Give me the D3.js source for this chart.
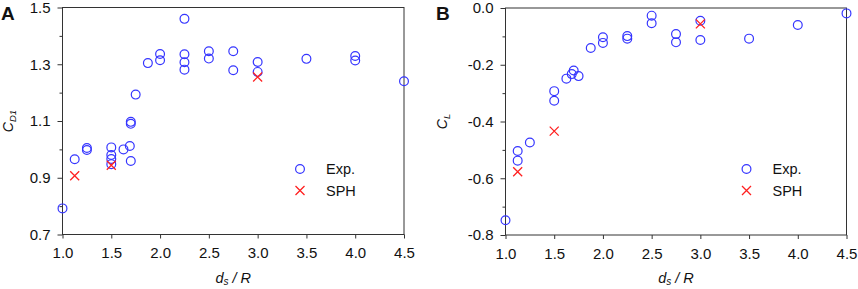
<!DOCTYPE html>
<html>
<head>
<meta charset="utf-8">
<script src="https://cdn.jsdelivr.net/npm/d3@7"></script>
<style>
  body { margin: 0; background: #fff; }
  text { font-family: "Liberation Sans", Arial, sans-serif; fill: #111; }
</style>
</head>
<body>
<div id="chart"></div>
<script>
// ---- data ----
var xTicks = [1.0, 1.5, 2.0, 2.5, 3.0, 3.5, 4.0, 4.5];

// Panel A: drag coefficient C_D1
var expXA = [1.0, 1.125, 1.25, 1.25, 1.5, 1.5, 1.5, 1.5, 1.625, 1.69, 1.7, 1.7, 1.7, 1.75, 1.875,
             2.0, 2.0, 2.25, 2.25, 2.25, 2.25, 2.5, 2.5, 2.75, 2.75, 3.0, 3.0, 3.5, 4.0, 4.0, 4.5];
var expYA = [0.792, 0.965, 1.005, 0.998, 1.007, 0.980, 0.966, 0.948, 1.0, 1.012, 0.959, 1.097, 1.090, 1.193, 1.304,
             1.336, 1.314, 1.460, 1.335, 1.307, 1.281, 1.346, 1.320, 1.346, 1.279, 1.308, 1.273, 1.319, 1.329, 1.313, 1.240];
var sphXA = [1.125, 1.5, 3.0];
var sphYA = [0.907, 0.944, 1.255];
var yMajorA = [0.7, 0.9, 1.1, 1.3, 1.5];
var yMinorA = [0.8, 1.0, 1.2, 1.4];

// Panel B: lift coefficient C_L
var expXB = [1.0, 1.125, 1.125, 1.25, 1.5, 1.5, 1.625, 1.68, 1.7, 1.75, 1.875, 2.0, 2.0,
             2.25, 2.25, 2.5, 2.5, 2.75, 2.75, 3.0, 3.0, 3.5, 4.0, 4.5];
var expYB = [-0.748, -0.504, -0.538, -0.474, -0.293, -0.327, -0.249, -0.233, -0.220, -0.240, -0.141, -0.103, -0.123,
             -0.099, -0.108, -0.027, -0.054, -0.092, -0.121, -0.045, -0.113, -0.108, -0.060, -0.019];
var sphXB = [1.125, 1.5, 3.0];
var sphYB = [-0.577, -0.434, -0.056];
var yMajorB = [-0.8, -0.6, -0.4, -0.2, 0.0];
var yMinorB = [-0.7, -0.5, -0.3, -0.1];

var blue = "#3535ff";
var red = "#ff2020";
var axisColor = "#333";

var svg = d3.select("#chart").append("svg")
    .attr("width", 858)
    .attr("height", 289);

function drawPanel(opt) {
    var x = d3.scaleLinear().domain([1.0, 4.5]).range([opt.left, opt.right]);
    var y = d3.scaleLinear().domain(opt.yDomain).range([opt.bottom, opt.top]);

    var g = svg.append("g");

    // minor y ticks
    g.append("g")
        .attr("transform", "translate(" + opt.left + ",0)")
        .call(d3.axisLeft(y).tickValues(opt.yMinor).tickSize(3).tickFormat(""))
        .call(function(a) { a.select(".domain").remove(); a.selectAll("line").attr("stroke", axisColor); });

    // major y ticks
    g.append("g")
        .attr("transform", "translate(" + opt.left + ",0)")
        .call(d3.axisLeft(y).tickValues(opt.yMajor).tickSize(5).tickPadding(7)
            .tickFormat(function(d) { return d.toFixed(1); }))
        .call(function(a) {
            a.select(".domain").remove();
            a.selectAll("line").attr("stroke", axisColor);
            a.selectAll("text").attr("font-size", 15).attr("fill", "#111")
                .style("font-family", "'Liberation Sans', Arial, sans-serif");
        });

    // x ticks
    g.append("g")
        .attr("transform", "translate(0," + opt.bottom + ")")
        .call(d3.axisBottom(x).tickValues(xTicks).tickSize(4).tickPadding(9)
            .tickFormat(function(d) { return d.toFixed(1); }))
        .call(function(a) {
            a.select(".domain").remove();
            a.selectAll("line").attr("stroke", axisColor);
            a.selectAll("text").attr("font-size", 15).attr("fill", "#111")
                .style("font-family", "'Liberation Sans', Arial, sans-serif");
        });

    // frame
    g.append("rect")
        .attr("x", opt.left)
        .attr("y", opt.top)
        .attr("width", opt.right - opt.left)
        .attr("height", opt.bottom - opt.top)
        .attr("fill", "none")
        .attr("stroke", axisColor)
        .attr("stroke-width", 1);

    // experimental points
    g.selectAll(".exp")
        .data(d3.range(opt.expX.length))
        .enter().append("circle")
        .attr("class", "exp")
        .attr("cx", function(i) { return x(opt.expX[i]); })
        .attr("cy", function(i) { return y(opt.expY[i]); })
        .attr("r", 4.4)
        .attr("fill", "none")
        .attr("stroke", blue)
        .attr("stroke-width", 1.2);

    // SPH crosses
    var s = 4.5;
    var crossPath = "M" + (-s) + "," + (-s) + "L" + s + "," + s + "M" + (-s) + "," + s + "L" + s + "," + (-s);
    g.selectAll(".sph")
        .data(d3.range(opt.sphX.length))
        .enter().append("path")
        .attr("class", "sph")
        .attr("transform", function(i) { return "translate(" + x(opt.sphX[i]) + "," + y(opt.sphY[i]) + ")"; })
        .attr("d", crossPath)
        .attr("stroke", red)
        .attr("stroke-width", 1.3)
        .attr("fill", "none");

    // legend
    var lx = opt.legendX, ly = 169;
    g.append("circle")
        .attr("cx", lx).attr("cy", ly).attr("r", 4.4)
        .attr("fill", "none").attr("stroke", blue).attr("stroke-width", 1.2);
    g.append("text")
        .attr("x", lx + 26).attr("y", ly + 5)
        .attr("font-size", 14.5)
        .text("Exp.");
    g.append("path")
        .attr("transform", "translate(" + lx + "," + (ly + 21.5) + ")")
        .attr("d", crossPath)
        .attr("stroke", red).attr("stroke-width", 1.3).attr("fill", "none");
    g.append("text")
        .attr("x", lx + 26).attr("y", ly + 26.5)
        .attr("font-size", 14.5)
        .text("SPH");

    // panel letter
    g.append("text")
        .attr("x", opt.letterX).attr("y", 19.5)
        .attr("font-size", 19)
        .attr("font-weight", "bold")
        .text(opt.letter);

    // y label
    var yl = g.append("text")
        .attr("transform", "translate(" + opt.yLabelX + "," + ((opt.top + opt.bottom) / 2) + ") rotate(-90)")
        .attr("text-anchor", "middle")
        .attr("font-size", 14)
        .attr("font-style", "italic");
    yl.append("tspan").text("C");
    yl.append("tspan").attr("font-size", 9.5).attr("dy", 3).text(opt.ySub);

    // x label
    var xl = g.append("text")
        .attr("x", (opt.left + opt.right) / 2)
        .attr("y", 283)
        .attr("text-anchor", "middle")
        .attr("font-size", 14.5)
        .attr("font-style", "italic");
    xl.append("tspan").text("d");
    xl.append("tspan").attr("font-size", 10).attr("dy", 2).text("s");
    xl.append("tspan").attr("dy", -2).text(" / R");
}

drawPanel({
    left: 62.5, right: 404, top: 7.5, bottom: 234.5,
    yDomain: [0.7, 1.5], yMajor: yMajorA, yMinor: yMinorA,
    expX: expXA, expY: expYA, sphX: sphXA, sphY: sphYA,
    legendX: 300, letter: "A", letterX: 1, yLabelX: 13, ySub: "D1"
});

drawPanel({
    left: 505.5, right: 846.5, top: 8, bottom: 235,
    yDomain: [-0.8, 0.0], yMajor: yMajorB, yMinor: yMinorB,
    expX: expXB, expY: expYB, sphX: sphXB, sphY: sphYB,
    legendX: 746.5, letter: "B", letterX: 436, yLabelX: 447, ySub: "L"
});
</script>
</body>
</html>
